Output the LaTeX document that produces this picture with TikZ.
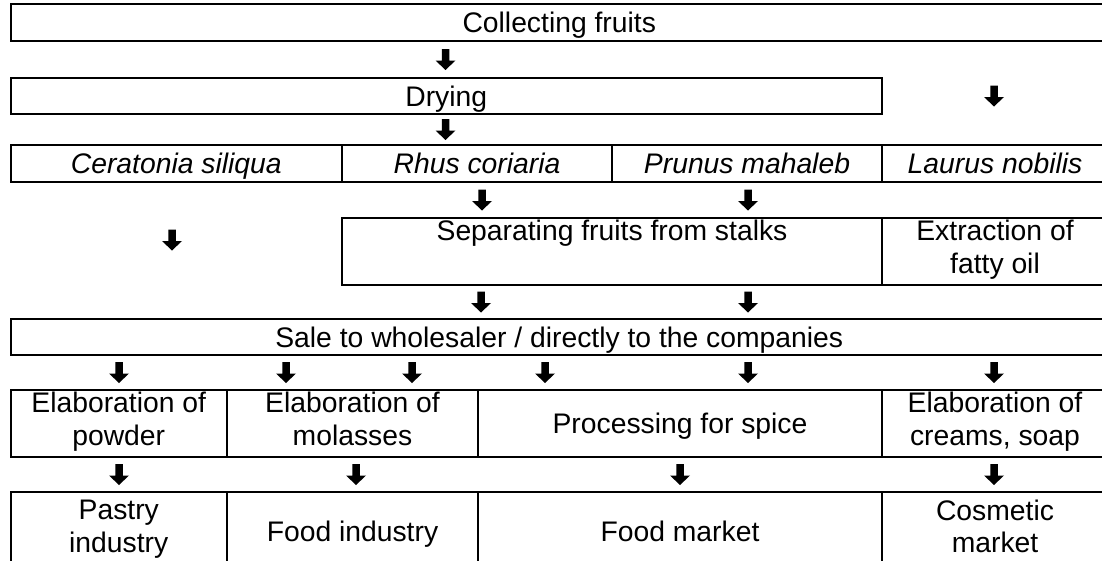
\documentclass[tikz,border=0pt]{standalone}
\usepackage{fontspec}
\setmainfont{Liberation Sans}
\usetikzlibrary{positioning}
\newcommand{\cellfont}{\fontsize{28.3}{32.5}\selectfont}
\newcommand{\onestrut}{\rule[-6pt]{0pt}{32pt}}

\begin{document}
\begin{tikzpicture}[x=1pt, y=-1pt,
    cell/.style={draw, line width=2pt, inner sep=0pt, outer sep=0pt, align=center, font=\cellfont},
    one/.style={cell, execute at begin node=\onestrut},
    two/.style={cell, execute at begin node=\strut, execute at end node=\strut},
    dnarrow/.pic={\fill (-3.75,0) -- (3.75,0) -- (3.75,11.5) -- (10,11.5) -- (0,21)
        -- (-10,11.5) -- (-3.75,11.5) -- cycle;}]
    \useasboundingbox (0,0) rectangle (1102,560);

    % Collecting and drying
    \node[one, minimum width=1097.5pt, minimum height=37pt] (collect) at (559.25,22.5) {Collecting fruits};
    \pic (ar-collect) at (445.5,49) {dnarrow};
    \node[one, minimum width=871.5pt, minimum height=36pt] (drying) at (446.25,96) {Drying};
    \pic (ar-side) at (994,85.5) {dnarrow};
    \pic (ar-drying) at (445.5,119) {dnarrow};

    % Species row
    \node[one, minimum width=331.5pt, minimum height=37pt] (ceratonia) at (176.25,163.5) {\textit{Ceratonia siliqua}};
    \node[one, minimum width=270pt, minimum height=37pt, right=0pt of ceratonia] (rhus) {\textit{Rhus coriaria}};
    \node[one, minimum width=270pt, minimum height=37pt, right=0pt of rhus] (prunus) {\textit{Prunus mahaleb}};
    \node[one, minimum width=226pt, minimum height=37pt, right=0pt of prunus] (laurus) {\textit{Laurus nobilis}};
    \pic (ar-rhus) at (482,189.5) {dnarrow};
    \pic (ar-prunus) at (748,189.5) {dnarrow};
    \pic (ar-ceratonia) at (172,229.5) {dnarrow};

    % Separating / extraction
    \node[two, minimum width=540pt, minimum height=67pt] (separate) at (612,251.5) {Separating fruits from stalks\\};
    \node[two, minimum width=226pt, minimum height=67pt, right=0pt of separate] (extract) {Extraction of\\fatty oil};
    \pic (ar-sep1) at (481,291.5) {dnarrow};
    \pic (ar-sep2) at (748,291.5) {dnarrow};

    % Sale
    \node[one, minimum width=1097.5pt, minimum height=36pt] (sale) at (559.25,337) {Sale to wholesaler / directly to the companies};
    \foreach \x [count=\i] in {119,286,412,545,748,994}
        \pic (ar-sale\i) at (\x,362) {dnarrow};

    % Elaboration row
    \node[two, minimum width=216.5pt, minimum height=67pt] (powder) at (118.75,423.5) {Elaboration of\\powder};
    \node[two, minimum width=251pt, minimum height=67pt, right=0pt of powder] (molasses) {Elaboration of\\molasses};
    \node[one, minimum width=404pt, minimum height=67pt, right=0pt of molasses] (spice) {Processing for spice};
    \node[two, minimum width=226pt, minimum height=67pt, right=0pt of spice] (creams) {Elaboration of\\creams, soap};
    \foreach \x [count=\i] in {119,356,680,994}
        \pic (ar-elab\i) at (\x,464) {dnarrow};

    % Markets
    \node[two, minimum width=216.5pt, minimum height=78pt] (pastry) at (118.75,531) {Pastry\\industry};
    \node[one, minimum width=251pt, minimum height=78pt, right=0pt of pastry] (foodind) {Food industry};
    \node[one, minimum width=404pt, minimum height=78pt, right=0pt of foodind] (foodmkt) {Food market};
    \node[two, minimum width=226pt, minimum height=78pt, right=0pt of foodmkt] (cosmetic) {Cosmetic\\market};
\end{tikzpicture}
\end{document}
